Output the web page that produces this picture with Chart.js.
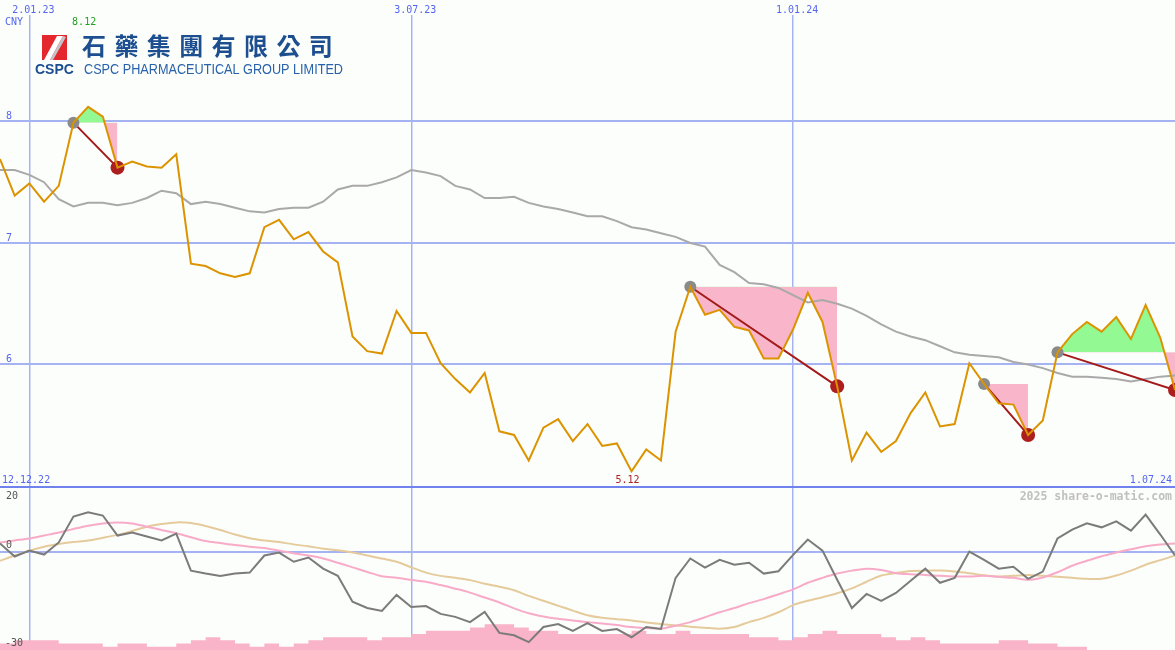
<!DOCTYPE html>
<html>
<head>
<meta charset="utf-8">
<title>CSPC Pharmaceutical Group</title>
<script src="https://cdn.jsdelivr.net/npm/chart.js@4.4.1/dist/chart.umd.min.js"></script>
<style>
    html, body { margin: 0; padding: 0; background: #fcfefb; }
    #wrap { position: relative; width: 1175px; height: 650px; overflow: hidden; }
    #priceChart { position: absolute; left: 0; top: 0; }
    #oscChart { position: absolute; left: 0; top: 486px; }
    #divider { position: absolute; left: 0; top: 486px; width: 1175px; height: 2px; background: #6f82ee; z-index: 2; }
</style>
</head>
<body>
<div id="wrap">
    <canvas id="priceChart" width="1175" height="486"></canvas>
    <canvas id="oscChart" width="1175" height="164"></canvas>
    <div id="divider"></div>
</div>
<script>
// Weekly closes, 19.12.22 .. 1.07.24 (CNY)
const price = [
    7.69, 7.39, 7.49, 7.34, 7.47, 7.99, 8.12, 8.04, 7.62, 7.67,
    7.63, 7.62, 7.73, 6.83, 6.81, 6.75, 6.72, 6.75, 7.13, 7.19,
    7.03, 7.09, 6.93, 6.84, 6.23, 6.11, 6.09, 6.44, 6.26, 6.26,
    6.01, 5.88, 5.77, 5.93, 5.45, 5.42, 5.21, 5.48, 5.55, 5.37,
    5.51, 5.33, 5.35, 5.12, 5.30, 5.21, 6.27, 6.64, 6.41, 6.45,
    6.31, 6.28, 6.05, 6.05, 6.29, 6.59, 6.35, 5.82, 5.21, 5.44,
    5.28, 5.37, 5.60, 5.77, 5.49, 5.51, 6.01, 5.84, 5.68, 5.67,
    5.42, 5.54, 6.10, 6.25, 6.35, 6.27, 6.39, 6.21, 6.49, 6.22,
    5.79
];

// Moving average (grey line)
const movingAvg = [
    7.60, 7.60, 7.56, 7.50, 7.36, 7.30, 7.33, 7.33, 7.31, 7.33,
    7.37, 7.43, 7.41, 7.32, 7.34, 7.32, 7.29, 7.26, 7.25, 7.28,
    7.29, 7.29, 7.34, 7.44, 7.47, 7.47, 7.50, 7.54, 7.60, 7.58,
    7.55, 7.47, 7.44, 7.37, 7.37, 7.38, 7.33, 7.30, 7.28, 7.25,
    7.22, 7.22, 7.18, 7.13, 7.11, 7.08, 7.05, 7.00, 6.97, 6.82,
    6.76, 6.67, 6.66, 6.63, 6.57, 6.51, 6.53, 6.50, 6.46, 6.40,
    6.33, 6.27, 6.23, 6.20, 6.15, 6.10, 6.08, 6.07, 6.06, 6.02,
    6.00, 5.97, 5.93, 5.90, 5.90, 5.89, 5.88, 5.86, 5.88, 5.90,
    5.91
];

// Lower panel: momentum and its two averages
const momentum = [
    2.5, -1.5, 0.3, -0.9, 2.8, 10.7, 12.0, 11.0, 4.9, 5.8,
    4.6, 3.4, 5.5, -5.8, -6.7, -7.4, -6.7, -6.4, -1.2, -0.3,
    -3.1, -1.8, -5.2, -7.4, -15.3, -17.2, -18.1, -13.2, -16.9, -16.6,
    -19.0, -19.9, -21.5, -18.4, -24.8, -25.5, -27.6, -23.0, -22.1, -24.2,
    -21.8, -24.2, -23.6, -26.1, -23.0, -23.6, -8.0, -2.1, -4.9, -2.5,
    -4.0, -3.4, -6.7, -6.0, -1.0, 3.7, 0.3, -8.6, -17.2, -12.9,
    -15.0, -12.6, -8.9, -5.2, -9.5, -8.0, 0.0, -2.5, -5.2, -4.6,
    -8.3, -6.1, 4.0, 6.7, 8.6, 7.4, 9.2, 6.4, 11.3, 5.2,
    -1.2
];
const fastAvg = [
    2.8, 3.4, 4.0, 4.9, 5.8, 6.9, 7.9, 8.6, 8.9, 8.6,
    7.6, 6.6, 5.6, 4.4, 3.2, 2.6, 2.0, 1.5, 1.1, 0.3,
    -0.5, -1.2, -2.1, -3.4, -4.8, -6.2, -7.5, -8.0, -8.6, -9.2,
    -10.2, -11.3, -12.5, -14.0, -15.5, -17.3, -18.8, -19.8, -20.5, -21.0,
    -21.5, -21.9, -22.4, -23.0, -23.3, -23.5, -22.6, -21.5, -20.0, -18.5,
    -17.2, -15.7, -14.5, -13.0, -11.5, -9.5, -8.0, -6.7, -5.8, -5.2,
    -5.6, -6.6, -6.9, -7.1, -7.4, -7.6, -7.6, -7.4, -7.7, -8.0,
    -8.6, -7.9, -6.3, -4.3, -2.8, -1.4, -0.3, 0.7, 1.6, 2.2,
    2.5
];
const slowAvg = [
    -2.8, -1.2, 0.3, 1.5, 2.3, 2.9, 3.4, 4.2, 5.1, 6.3,
    7.6, 8.4, 8.9, 8.7, 7.8, 6.6, 5.2, 4.1, 3.4, 2.9,
    2.2, 1.6, 0.9, 0.4, -0.3, -1.2, -2.1, -3.1, -4.8, -6.4,
    -7.4, -8.0, -8.7, -9.8, -10.7, -11.8, -13.5, -15.0, -16.5, -18.0,
    -19.4, -20.2, -20.6, -21.0, -21.6, -22.1, -22.5, -22.9, -23.2, -23.5,
    -23.0, -21.5, -20.2, -18.5, -16.3, -15.0, -13.9, -12.7, -11.2, -9.2,
    -7.3, -6.5, -5.9, -5.8, -5.8, -6.1, -6.6, -7.2, -7.6, -7.4,
    -7.1, -7.4, -7.7, -8.0, -8.3, -8.3, -7.3, -5.8, -4.0, -2.6,
    -1.2
];

// Relative weekly volume (pink blocks, one block per week)
const volume = [
    2, 2, 3, 3, 3, 2, 2, 2, 1, 2,
    2, 1, 1, 2, 3, 4, 3, 2, 1, 2,
    1, 2, 3, 4, 4, 4, 3, 4, 4, 5,
    6, 6, 6, 7, 8, 8, 7, 6, 6, 5,
    5, 5, 5, 5, 6, 5, 5, 6, 5, 5,
    5, 5, 4, 4, 3, 4, 5, 6, 5, 5,
    5, 4, 3, 4, 3, 2, 2, 2, 2, 3,
    3, 2, 2, 1, 1, 0, 0, 0, 0, 0,
    0
];

// Signals: start week (grey dot) and end week (red dot)
const signalStart = [5, 47, 67, 72];
const signalEnd = [8, 57, 70, 80];

// Axis ticks and labels
const firstWeek = [2022, 11, 19];
const dateTicks = ['2.01.23', '3.07.23', '1.01.24'];
const rangeLabels = ['12.12.22', '1.07.24'];
const priceTicks = [6, 7, 8];
const oscTicks = [20, 0, -30];

const BLUE_TEXT = '#5566ee';
const GRID = '#a6b3f3';
const MONO = '"DejaVu Sans Mono", monospace';

// d.mm.yy labels for every week
const weekLabels = price.map((v, i) => {
    const d = new Date(Date.UTC(firstWeek[0], firstWeek[1], firstWeek[2] + 7 * i));
    const mm = String(d.getUTCMonth() + 1).padStart(2, '0');
    const yy = String(d.getUTCFullYear()).slice(2);
    return `${d.getUTCDate()}.${mm}.${yy}`;
});
const gridWeeks = dateTicks.map(t => weekLabels.indexOf(t));

const toPoints = arr => arr.map((v, i) => ({ x: i, y: v }));

function xScaleOptions() {
    return {
        type: 'linear',
        min: 0,
        max: weekLabels.length - 1,
        border: { display: false },
        ticks: { display: false },
        grid: { color: GRID, lineWidth: 1.5, drawTicks: false },
        afterBuildTicks: axis => { axis.ticks = gridWeeks.map(v => ({ value: v })); }
    };
}

function text(ctx, str, x, y, color, font, align) {
    ctx.fillStyle = color;
    ctx.font = font;
    ctx.textAlign = align || 'left';
    ctx.textBaseline = 'alphabetic';
    ctx.fillText(str, x, y);
}

function drawLogo(ctx) {
    ctx.save();
    ctx.fillStyle = '#e3272c';
    ctx.fillRect(42, 35, 25, 25);
    ctx.fillStyle = '#ffffff';
    ctx.beginPath();
    ctx.moveTo(44, 60); ctx.lineTo(50, 60); ctx.lineTo(63, 36); ctx.lineTo(57, 36);
    ctx.fill();
    ctx.fillStyle = '#c4c4c8';
    ctx.beginPath();
    ctx.moveTo(50, 60); ctx.lineTo(53, 60); ctx.lineTo(66, 37); ctx.lineTo(63, 36);
    ctx.fill();
    text(ctx, 'CSPC', 35, 74, '#1b4d92', 'bold 14px "Liberation Sans", Arial, sans-serif');

    const chinese = '石藥集團有限公司';
    ctx.fillStyle = '#1d4f90';
    ctx.font = '700 24px "Noto Sans CJK TC", sans-serif';
    ctx.textAlign = 'left';
    ctx.textBaseline = 'middle';
    [...chinese].forEach((ch, k) => ctx.fillText(ch, 82 + k * 32.4, 46));

    ctx.fillStyle = '#2862ac';
    ctx.font = '15px "Liberation Sans", Arial, sans-serif';
    ctx.textBaseline = 'alphabetic';
    ctx.fillText('CSPC PHARMACEUTICAL GROUP LIMITED', 84, 74, 259);
    ctx.restore();
}

const priceLabels = {
    id: 'priceLabels',
    afterDraw(chart) {
        const ctx = chart.ctx;
        const xs = chart.scales.x;
        const ys = chart.scales.y;
        const font = '10px ' + MONO;
        ctx.save();
        priceTicks.forEach(v => text(ctx, String(v), 6, ys.getPixelForValue(v) - 2, BLUE_TEXT, font));
        gridWeeks.forEach((w, k) => text(ctx, dateTicks[k], xs.getPixelForValue(w) + 4, 13, BLUE_TEXT, font, 'center'));
        text(ctx, 'CNY', 5, 25, BLUE_TEXT, font);

        const hi = Math.max(...price);
        const lo = Math.min(...price);
        text(ctx, hi.toFixed(2), xs.getPixelForValue(price.indexOf(hi)) - 4, 25, '#22a022', font, 'center');
        text(ctx, lo.toFixed(2), xs.getPixelForValue(price.indexOf(lo)) - 4, 483, '#aa2222', font, 'center');
        text(ctx, rangeLabels[0], 2, 483, BLUE_TEXT, font);
        text(ctx, rangeLabels[1], 1172, 483, BLUE_TEXT, font, 'right');
        drawLogo(ctx);
        ctx.restore();
    }
};

const oscLabels = {
    id: 'oscLabels',
    afterDraw(chart) {
        const ctx = chart.ctx;
        const ys = chart.scales.y;
        const font = '10px ' + MONO;
        ctx.save();
        text(ctx, String(oscTicks[0]), 6, ys.getPixelForValue(oscTicks[0]) + 13, '#555555', font);
        text(ctx, String(oscTicks[1]), 6, ys.getPixelForValue(oscTicks[1]) - 4, '#555555', font);
        text(ctx, String(oscTicks[2]), 5, ys.getPixelForValue(oscTicks[2]) - 4, '#555555', font);
        text(ctx, '2025 share-o-matic.com', 1172, 14, '#c0c0c0', 'bold 11.5px ' + MONO, 'right');
        ctx.restore();
    }
};

// Price panel datasets: price on top, then signal markers, moving average, fills
const signalPoints = [];
signalStart.forEach((s, k) => {
    const e = signalEnd[k];
    signalPoints.push({ x: s, y: price[s] }, { x: e, y: price[e] }, { x: e, y: null });
});

const priceDatasets = [
    { data: toPoints(price), borderColor: '#dc9300', borderWidth: 2, pointRadius: 0 },
    {
        data: signalPoints,
        borderColor: '#a41a1a',
        borderWidth: 2,
        pointRadius: ctx => (ctx.dataIndex % 3 === 0 ? 6 : (ctx.dataIndex % 3 === 1 ? 7 : 0)),
        pointBackgroundColor: ctx => (ctx.dataIndex % 3 === 0 ? '#8a8a8a' : '#ad1f1f'),
        pointBorderWidth: 0
    },
    { data: toPoints(movingAvg), borderColor: '#a9a9a9', borderWidth: 2, pointRadius: 0 }
];

signalStart.forEach((s, k) => {
    const e = signalEnd[k];
    const levelIndex = priceDatasets.length;
    priceDatasets.push({
        data: [{ x: s, y: price[s] }, { x: e, y: price[s] }],
        borderWidth: 0, borderColor: 'transparent', pointRadius: 0, fill: false
    });
    priceDatasets.push({
        data: price.slice(s, e + 1).map((v, j) => ({ x: s + j, y: v })),
        borderWidth: 0, borderColor: 'transparent', pointRadius: 0,
        fill: { target: levelIndex, above: '#93f993', below: '#f9b5ca' }
    });
});

new Chart(document.getElementById('priceChart'), {
    type: 'line',
    data: { datasets: priceDatasets },
    options: {
        responsive: false,
        animation: false,
        events: [],
        layout: { autoPadding: false, padding: { top: 15, left: 0, right: 0, bottom: 0 } },
        plugins: {
            legend: { display: false },
            tooltip: { enabled: false },
            filler: { drawTime: 'beforeDatasetsDraw' }
        },
        scales: {
            x: xScaleOptions(),
            y: {
                type: 'linear',
                min: 5,
                max: 8.876,
                border: { display: false },
                ticks: { display: false },
                grid: { color: GRID, lineWidth: 2, drawTicks: false },
                afterBuildTicks: axis => { axis.ticks = priceTicks.map(v => ({ value: v })); }
            }
        }
    },
    plugins: [priceLabels]
});

new Chart(document.getElementById('oscChart'), {
    type: 'line',
    data: {
        datasets: [
            { data: toPoints(momentum), borderColor: '#7b7b7b', borderWidth: 2, pointRadius: 0 },
            { data: toPoints(fastAvg), borderColor: '#f8abc8', borderWidth: 2, pointRadius: 0, tension: 0.3 },
            { data: toPoints(slowAvg), borderColor: '#e5cb9c', borderWidth: 2, pointRadius: 0, tension: 0.3 },
            {
                // volume as weekly blocks: step from each week to the next, filled to the base
                yAxisID: 'yv',
                data: toPoints(volume),
                stepped: 'after',
                borderWidth: 0,
                borderColor: 'transparent',
                pointRadius: 0,
                backgroundColor: '#f9b4c9',
                fill: 'origin'
            }
        ]
    },
    options: {
        responsive: false,
        animation: false,
        events: [],
        layout: { autoPadding: false, padding: 0 },
        plugins: { legend: { display: false }, tooltip: { enabled: false } },
        scales: {
            x: xScaleOptions(),
            y: {
                type: 'linear',
                min: -30,
                max: 20,
                border: { display: false },
                ticks: { display: false },
                grid: { color: GRID, lineWidth: 2, drawTicks: false },
                afterBuildTicks: axis => { axis.ticks = [{ value: 0 }]; }
            },
            yv: { type: 'linear', axis: 'y', display: false, min: 0, max: 51 }
        }
    },
    plugins: [oscLabels]
});
</script>
</body>
</html>
